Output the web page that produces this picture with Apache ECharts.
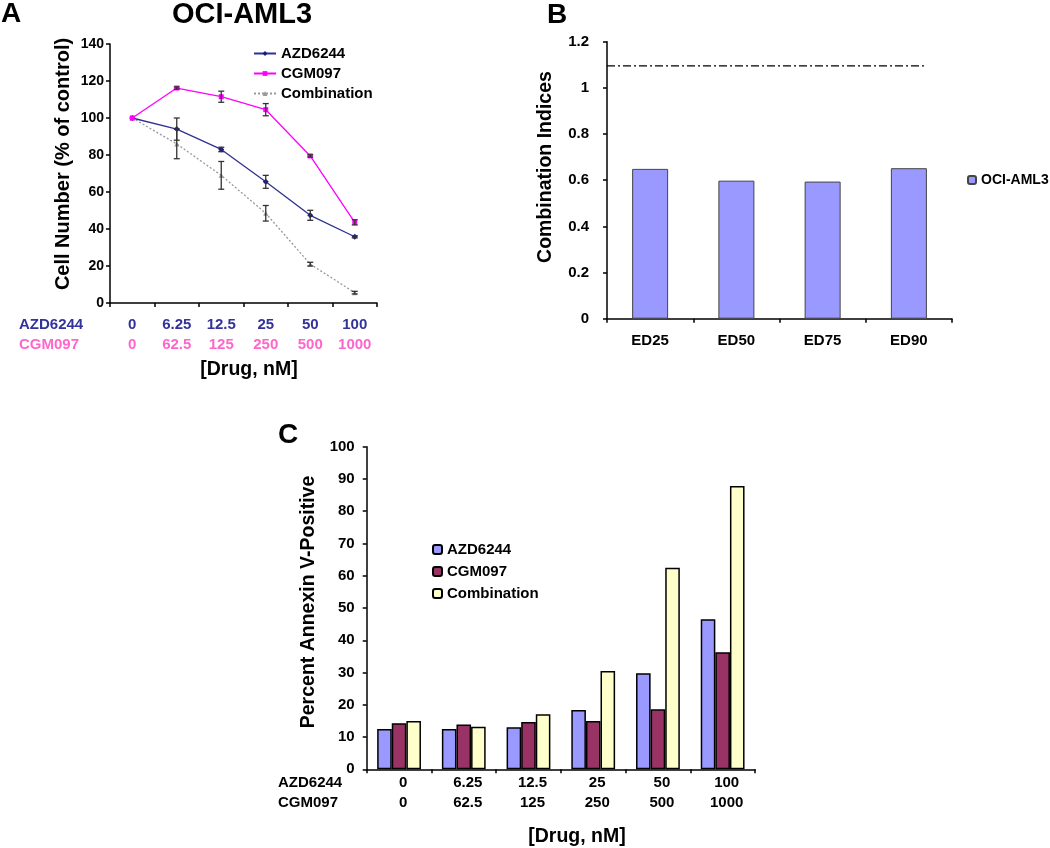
<!DOCTYPE html>
<html>
<head>
<meta charset="utf-8">
<script src="https://cdn.jsdelivr.net/npm/echarts@6/dist/echarts.min.js"></script>
<style>html,body{margin:0;padding:0;background:#fff}#c{width:1050px;height:848px}</style>
</head>
<body>
<div id="c"></div>
<script>
// ---------- Panel A data ----------
const azdDoses = ['0', '6.25', '12.5', '25', '50', '100'];
const cgmDoses = ['0', '62.5', '125', '250', '500', '1000'];
const seriesNamesA = ['AZD6244', 'CGM097', 'Combination'];
const azdA = [100, 94, 83, 65.5, 47.4, 35.8];
const azdErr = [0, 6, 1.2, 3.5, 2.7, 0.6];
const cgmA = [100, 116.2, 111.5, 104.5, 79.5, 43.6];
const cgmErr = [0, 0.6, 3, 3.3, 0.6, 1.4];
const combA = [100, 86, 69, 48.5, 21, 5.6];
const combErr = [0, 8, 7.5, 4.2, 1, 0.7];
const yTicksA = [0, 140, 20];

// ---------- Panel B data ----------
const edLabels = ['ED25', 'ED50', 'ED75', 'ED90'];
const ciValues = [0.649, 0.598, 0.594, 0.652];
const ciRefLevel = 1.095;
const ciRefSpan = [0, 3.71];
const seriesNameB = 'OCI-AML3';

// ---------- Panel C data ----------
const seriesNamesC = ['AZD6244', 'CGM097', 'Combination'];
const annexAzd = [12.5, 12.5, 13.0, 18.4, 29.8, 46.5];
const annexCgm = [14.3, 13.9, 14.7, 15.0, 18.6, 36.3];
const annexComb = [15.0, 13.2, 17.1, 30.5, 62.5, 87.8];

const FF = '"Liberation Sans", Arial, Helvetica, sans-serif';
const chart = echarts.init(document.getElementById('c'), null, {renderer: 'canvas'});

function errData(vals, errs) { return vals.map((v, i) => [i, v, errs[i]]); }
function errRender(params, api) {
  const i = api.value(0), v = api.value(1), e = api.value(2);
  if (!e) return null;
  const hi = api.coord([i, v + e]);
  const lo = api.coord([i, v - e]);
  const w = 3;
  const st = {stroke: '#333', lineWidth: 1.3};
  return {type: 'group', children: [
    {type: 'line', shape: {x1: hi[0], y1: hi[1], x2: lo[0], y2: lo[1]}, style: st},
    {type: 'line', shape: {x1: hi[0] - w, y1: hi[1], x2: hi[0] + w, y2: hi[1]}, style: st},
    {type: 'line', shape: {x1: lo[0] - w, y1: lo[1], x2: lo[0] + w, y2: lo[1]}, style: st}
  ]};
}
function txt(text, x, y, size, opts) {
  opts = opts || {};
  return {type: 'text', x: x, y: y, rotation: opts.rot || 0, z: 100,
    style: {text: text, fill: opts.color || '#000',
      font: 'bold ' + size + 'px ' + FF,
      textAlign: opts.align || 'center', align: opts.align || 'center',
      textVerticalAlign: 'middle', verticalAlign: 'middle'}};
}

const axisLine = {show: true, lineStyle: {color: '#000', width: 1.5}};
const axisTick = {show: true, length: 4, lineStyle: {color: '#000', width: 1.5}};
const tickLabel = {color: '#000', fontWeight: 'bold', fontSize: 14, fontFamily: FF, margin: 6};

const option = {
  animation: false,
  backgroundColor: '#fff',
  grid: [
    {left: 110, top: 44, width: 267, height: 259},
    {left: 607, top: 41.7, width: 345, height: 277},
    {left: 366.7, top: 446.7, width: 388.3, height: 322.6}
  ],
  xAxis: [
    {type: 'category', gridIndex: 0, data: azdDoses, axisLine: axisLine, axisTick: axisTick,
      axisLabel: {interval: 0, hideOverlap: false, margin: 12, fontFamily: FF, lineHeight: 20,
        formatter: (v, i) => '{a|' + azdDoses[i] + '}\n{b|' + cgmDoses[i] + '}',
        rich: {a: {color: '#333399', fontWeight: 'bold', fontSize: 15, fontFamily: FF, lineHeight: 20},
               b: {color: '#ff66cc', fontWeight: 'bold', fontSize: 15, fontFamily: FF, lineHeight: 20}}}},
    {type: 'category', gridIndex: 1, data: edLabels, axisLine: axisLine, axisTick: axisTick,
      axisLabel: Object.assign({}, tickLabel, {interval: 0, fontSize: 15, margin: 15})},
    {type: 'value', gridIndex: 1, min: 0, max: 4, show: false},
    {type: 'category', gridIndex: 2, data: azdDoses, axisLine: axisLine, axisTick: axisTick,
      axisLabel: {interval: 0, hideOverlap: false, margin: 4, padding: [0, 0, 0, 8], fontFamily: FF, color: '#000', fontWeight: 'bold', fontSize: 15, lineHeight: 20,
        formatter: (v, i) => azdDoses[i] + '\n' + cgmDoses[i]}}
  ],
  yAxis: [
    {type: 'value', gridIndex: 0, min: yTicksA[0], max: yTicksA[1], interval: yTicksA[2],
      axisLine: axisLine, axisTick: axisTick, splitLine: {show: false}, axisLabel: tickLabel},
    {type: 'value', gridIndex: 1, min: 0, max: 1.2, interval: 0.2,
      axisLine: axisLine, axisTick: axisTick, splitLine: {show: false},
      axisLabel: Object.assign({}, tickLabel, {fontSize: 15, margin: 18, formatter: v => String(+v.toFixed(1))})},
    {type: 'value', gridIndex: 2, min: 0, max: 100, interval: 10,
      axisLine: axisLine, axisTick: axisTick, splitLine: {show: false},
      axisLabel: Object.assign({}, tickLabel, {fontSize: 15, margin: 12})}
  ],
  legend: [
    {data: seriesNamesA, orient: 'vertical', left: 253, top: 46, padding: 0, itemWidth: 22, itemHeight: 6, itemGap: 5,
      textStyle: {fontWeight: 'bold', fontSize: 15, fontFamily: FF, color: '#000'}},
    {data: [seriesNameB], left: 967, top: 173, padding: 0, itemWidth: 8, itemHeight: 8,
      textStyle: {fontWeight: 'bold', fontSize: 14, fontFamily: FF, color: '#000'}},
    {data: seriesNamesC.map(n => n + ' (C)'), orient: 'vertical', left: 432, top: 542, padding: 0,
      itemWidth: 9, itemHeight: 9, itemGap: 7,
      formatter: n => n.replace(' (C)', ''),
      textStyle: {fontWeight: 'bold', fontSize: 15, fontFamily: FF, color: '#000'}}
  ],
  series: [
    {name: seriesNamesA[0], type: 'line', xAxisIndex: 0, yAxisIndex: 0, data: azdA,
      symbol: 'diamond', symbolSize: 6, lineStyle: {color: '#2e3192', width: 1.3},
      itemStyle: {color: '#1a1a80'}, z: 3},
    {name: seriesNamesA[1], type: 'line', xAxisIndex: 0, yAxisIndex: 0, data: cgmA,
      symbol: 'rect', symbolSize: 5, lineStyle: {color: '#ff00ff', width: 1.3},
      itemStyle: {color: '#ff00ff'}, z: 3},
    {name: seriesNamesA[2], type: 'line', xAxisIndex: 0, yAxisIndex: 0, data: combA,
      symbol: 'triangle', symbolSize: 5, lineStyle: {color: '#999', width: 1.3, type: [2, 2]},
      itemStyle: {color: '#999'}, z: 2},
    {type: 'custom', xAxisIndex: 0, yAxisIndex: 0, data: errData(azdA, azdErr), renderItem: errRender, z: 5, encode: {x: 0, y: 1}},
    {type: 'custom', xAxisIndex: 0, yAxisIndex: 0, data: errData(cgmA, cgmErr), renderItem: errRender, z: 5, encode: {x: 0, y: 1}},
    {type: 'custom', xAxisIndex: 0, yAxisIndex: 0, data: errData(combA, combErr), renderItem: errRender, z: 5, encode: {x: 0, y: 1}},

    {name: seriesNameB, type: 'bar', xAxisIndex: 1, yAxisIndex: 1, data: ciValues, barWidth: 36,
      itemStyle: {color: '#9999ff', borderColor: '#444', borderWidth: 1}},
    {type: 'line', xAxisIndex: 2, yAxisIndex: 1, symbol: 'none',
      data: ciRefSpan.map(x => [x, ciRefLevel]),
      lineStyle: {color: '#000', width: 1.2, type: [8, 3, 2, 3]}},

    {name: seriesNamesC[0] + ' (C)', type: 'bar', xAxisIndex: 3, yAxisIndex: 2, data: annexAzd,
      barWidth: 14.6, barGap: '0%', itemStyle: {color: '#9999ff', borderColor: '#000', borderWidth: 1.5}},
    {name: seriesNamesC[1] + ' (C)', type: 'bar', xAxisIndex: 3, yAxisIndex: 2, data: annexCgm,
      barWidth: 14.6, barGap: '0%', itemStyle: {color: '#993366', borderColor: '#000', borderWidth: 1.5}},
    {name: seriesNamesC[2] + ' (C)', type: 'bar', xAxisIndex: 3, yAxisIndex: 2, data: annexComb,
      barWidth: 14.6, barGap: '0%', itemStyle: {color: '#ffffcc', borderColor: '#000', borderWidth: 1.5}}
  ],
  graphic: [
    txt('A', 11, 14, 28),
    txt('OCI-AML3', 242, 15, 29),
    txt('Cell Number (% of control)', 63, 164, 20, {rot: Math.PI / 2}),
    txt('AZD6244', 19, 325, 15, {align: 'left', color: '#333399'}),
    txt('CGM097', 19, 345, 15, {align: 'left', color: '#ff66cc'}),
    txt('[Drug, nM]', 249, 370, 19.5),
    txt('B', 557, 15, 28),
    txt('Combination Indices', 546, 167, 19.5, {rot: Math.PI / 2}),
    txt('C', 288, 435, 28),
    txt('Percent Annexin V-Positive', 309, 602, 19.5, {rot: Math.PI / 2}),
    txt('AZD6244', 278, 783, 15, {align: 'left'}),
    txt('CGM097', 278, 803, 15, {align: 'left'}),
    txt('[Drug, nM]', 577, 837, 19.5)
  ]
};
chart.setOption(option);
</script>
</body>
</html>
